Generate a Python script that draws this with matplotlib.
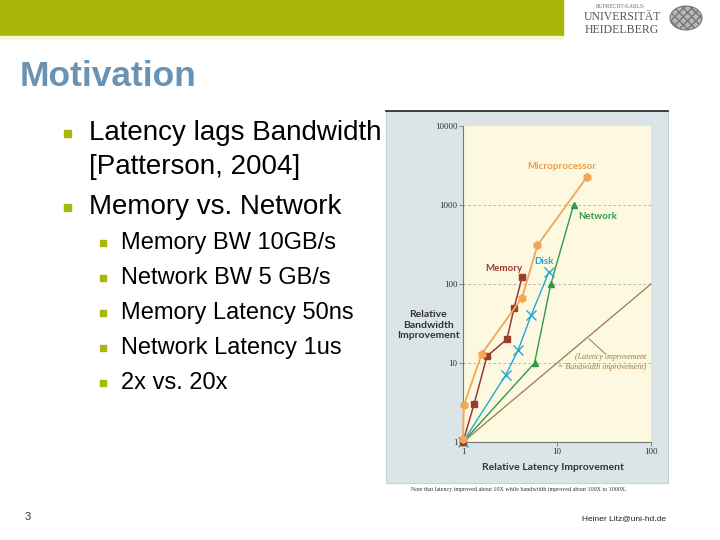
import matplotlib
matplotlib.use("Agg")
import matplotlib.pyplot as plt
from matplotlib.patches import Rectangle, Circle
import numpy as np

plt.rcParams['font.family'] = ['Liberation Sans', 'DejaVu Sans']

# chart data (relative latency improvement, relative bandwidth improvement)
cpu_lat = [1.0, 1.02, 1.58, 4.25, 6.2, 21.0]
cpu_bw = [1.08, 2.9, 13.0, 67.0, 310.0, 2290.0]
mem_lat = [1.0, 1.31, 1.8, 2.93, 3.5, 4.25]
mem_bw = [1.0, 3.0, 12.2, 20.0, 50.0, 122.0]
disk_lat = [1.0, 2.84, 3.86, 5.3, 8.2]
disk_bw = [1.0, 7.0, 14.6, 40.0, 142.0]
net_lat = [1.0, 5.77, 8.6, 15.0]
net_bw = [1.0, 10.0, 100.0, 1000.0]
ref_lat = [1, 100]
ref_bw = [1, 100]

bullets1 = ["Latency lags Bandwidth\n[Patterson, 2004]", "Memory vs. Network"]
bullets2 = ["Memory BW 10GB/s", "Network BW 5 GB/s", "Memory Latency 50ns",
            "Network Latency 1us", "2x vs. 20x"]

W, H = 720, 540
fig = plt.figure(figsize=(7.2, 5.4), dpi=100)


def fx(x):
    return x / W


def fy(y):
    return 1 - y / H


# header bar and logo
fig.patches.append(Rectangle((0, fy(36)), fx(563), 36 / H, transform=fig.transFigure,
                             color='#a8b50a', zorder=0))
fig.patches.append(Rectangle((0, fy(39)), fx(563), 3 / H, transform=fig.transFigure,
                             color='#f6f6d0', zorder=0))
fig.text(fx(621), fy(6), "RUPRECHT-KARLS-", fontsize=4, family='Liberation Serif',
         color='#666666', ha='center', va='center')
fig.text(fx(622), fy(17), "UNIVERSITÄT", fontsize=8.5, family='Liberation Serif',
         color='#555555', ha='center', va='center')
fig.text(fx(622), fy(30), "HEIDELBERG", fontsize=8.5, family='Liberation Serif',
         color='#555555', ha='center', va='center')
seal = Circle((fx(686), fy(18)), 16 / W, transform=fig.transFigure, facecolor='#b8b8b8',
              edgecolor='#777777', hatch='xxxx', lw=0.8)
fig.patches.append(seal)

# title
fig.text(fx(20), fy(77), "Motivation", fontsize=25.5, fontweight='bold',
         color='#6a93b3', va='center')

# bullets
fig.patches.append(Rectangle((fx(64), fy(137)), 7 / W, 7 / H,
                             transform=fig.transFigure, color='#a8b50a'))
fig.text(fx(89), fy(133), bullets1[0].split("\n")[0], fontsize=20, va='center')
fig.text(fx(89), fy(167), bullets1[0].split("\n")[1], fontsize=20, va='center')
fig.patches.append(Rectangle((fx(64), fy(211)), 7 / W, 7 / H,
                             transform=fig.transFigure, color='#a8b50a'))
fig.text(fx(89), fy(207), bullets1[1], fontsize=20, va='center')
lvl2_y = [243, 278, 313, 348, 383]
for t, y in zip(bullets2, lvl2_y):
    fig.patches.append(Rectangle((fx(100), fy(y + 3)), 6 / W, 6 / H,
                                 transform=fig.transFigure, color='#a8b50a'))
    fig.text(fx(121), fy(y), t, fontsize=17, va='center')

# footer
fig.text(fx(28), fy(517), "3", fontsize=8, va='center', ha='center', color='#333333')
fig.text(fx(624), fy(519), "Heiner Litz@uni-hd.de", fontsize=6, va='center',
         ha='center', color='#222222')

# chart panel
fig.patches.append(Rectangle((fx(386), fy(483)), (668 - 386) / W, (483 - 111) / H,
                             transform=fig.transFigure, facecolor='#dbe5e7',
                             edgecolor='#c8d2d4', lw=0.8, zorder=0))
fig.lines.append(plt.Line2D([fx(386), fx(668)], [fy(111), fy(111)],
                            transform=fig.transFigure, color='#222222', lw=1.2))
fig.text(fx(519), fy(490), "Note that latency improved about 10X while bandwidth "
         "improved about 100X to 1000X.", fontsize=4.3, family='Liberation Serif',
         ha='center', va='center', color='#333333')

ax = fig.add_axes([fx(463), fy(442), (651 - 463) / W, (442 - 126) / H])
ax.set_zorder(3)
ax.set_facecolor('#fcf9e0')
ax.set_xscale('log')
ax.set_yscale('log')
ax.set_xlim(1, 100)
ax.set_ylim(1, 10000)
for s in ['top', 'right']:
    ax.spines[s].set_visible(False)
for s in ['left', 'bottom']:
    ax.spines[s].set_color('#777777')
    ax.spines[s].set_linewidth(0.8)
ax.set_xticks([1, 10, 100])
ax.set_xticklabels(['1', '10', '100'])
ax.set_yticks([1, 10, 100, 1000, 10000])
ax.set_yticklabels(['1', '10', '100', '1000', '10000'])
ax.minorticks_off()
ax.tick_params(labelsize=6.5, length=3, width=0.6, color='#777777', pad=1,
               labelcolor='#333333')
for lab in ax.get_xticklabels() + ax.get_yticklabels():
    lab.set_family('Liberation Serif')
for yv in [10, 100, 1000]:
    ax.axhline(yv, color='#aaaaaa', lw=0.6, ls=(0, (3, 3)), zorder=1)

ax.plot(ref_lat, ref_bw, color='#a88060', lw=1.0, zorder=2, clip_on=False)
ax.plot(net_lat, net_bw, color='#2e9a4a', lw=1.0, marker='^', ms=5, zorder=3,
        clip_on=False)
ax.plot(disk_lat, disk_bw, color='#22a8d6', lw=1.0, marker='x', ms=7, mew=1.0, zorder=3,
        clip_on=False)
ax.plot(mem_lat, mem_bw, color='#9b3a2e', lw=1.1, marker='s', ms=4.5, zorder=4,
        clip_on=False)
ax.plot(cpu_lat, cpu_bw, color='#f2a656', lw=1.3, marker='h', ms=5.5, zorder=4,
        clip_on=False)

ax.text(11.3, 3070, "Microprocessor", color='#ec9a4a', fontsize=7, fontweight='bold',
        family='Lato', ha='center', va='center')
ax.text(26.8, 724, "Network", color='#2e9a4a', fontsize=7, fontweight='bold',
        family='Lato', ha='center', va='center')
ax.text(2.7, 157, "Memory", color='#9b3a2e', fontsize=7, fontweight='bold',
        family='Lato', ha='center', va='center')
ax.text(7.24, 190, "Disk", color='#22a8d6', fontsize=7, fontweight='bold',
        family='Lato', ha='center', va='center')
ax.text(88, 10.3, "(Latency improvement\n= Bandwidth improvement)", color='#a07840',
        fontsize=5.8, style='italic', family='Liberation Serif', ha='right',
        va='center', linespacing=1.2)
ax.plot([21.9, 32.8], [20.2, 13.0], color='#a07840', lw=0.7)

fig.text(fx(428), fy(325), "Relative\nBandwidth\nImprovement", fontsize=7.5,
         fontweight='bold', family='Lato', color='#333333', ha='center', va='center',
         linespacing=1.15)
fig.text(fx(553), fy(468), "Relative Latency Improvement", fontsize=7.5,
         fontweight='bold', family='Lato', color='#333333', ha='center', va='center')

fig.savefig("out.png", dpi=100)
